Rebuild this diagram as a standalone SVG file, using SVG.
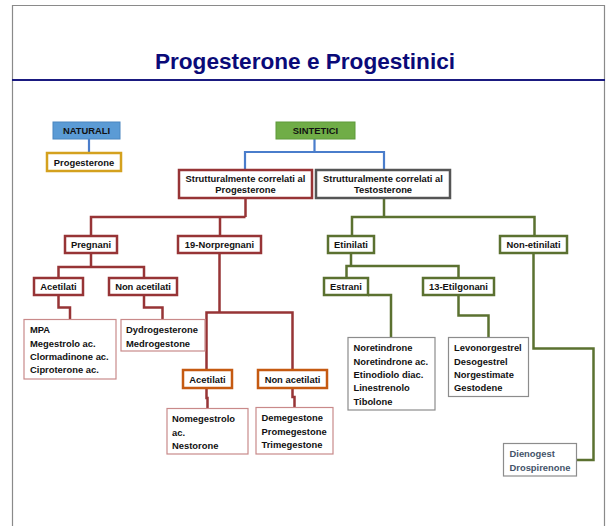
<svg xmlns="http://www.w3.org/2000/svg" width="611" height="526" viewBox="0 0 611 526">
<style>
text{font-family:"Liberation Sans",Arial,sans-serif;font-weight:bold;font-size:9.4px;fill:#111}
.title{font-size:22.6px;fill:#0A0A78}
.c{text-anchor:middle}
.red{fill:#fff;stroke:#973436;stroke-width:2.5}
.org{fill:#fff;stroke:#C55A11;stroke-width:2.5}
.grn{fill:#fff;stroke:#5B7130;stroke-width:2.5}
.lst{fill:#fff;stroke:#C98A8A;stroke-width:1.2}
.gst{fill:#fff;stroke:#8C8C8C;stroke-width:1.2}
.lr{fill:none;stroke:#973436;stroke-width:2.5}
.lg{fill:none;stroke:#5B7130;stroke-width:2.5}
.lb{fill:none;stroke:#4A7DCB;stroke-width:2.2}
</style>
<rect x="0" y="0" width="611" height="526" fill="#fff"/>
<g id="frame">
<path d="M12.5,526 V5.5 H604.5 V526" fill="none" stroke="#8A8A8A" stroke-width="1.2"/>
<line x1="12" y1="80" x2="605" y2="80" stroke="#1A1A80" stroke-width="2"/>
<text class="title c" x="305" y="69">Progesterone e Progestinici</text>
</g>
<g id="connectors">
<path class="lb" d="M89,139 V153"/>
<path class="lb" d="M314.5,139 V152 M245,170 V152 H384 V170"/>
<path class="lr" d="M245.5,198 V217 M91,236 V217 H245.5 M220,217 V236"/>
<path class="lg" d="M384,198 V217 M352,236 V217 H534.5 V236"/>
<path class="lr" d="M91,253 V267 M58.5,278 V267 H144 V278"/>
<path class="lr" d="M58.5,295 V307.5 H70 V319"/>
<path class="lr" d="M144,295 V307.5 H162.5 V319"/>
<path class="lr" d="M219.5,253 V312.5 M206.5,370 V312.5 H292.5 V370"/>
<path class="lr" d="M206.5,388 V398 H207.5 V408"/>
<path class="lr" d="M292.5,388 V397 H294.5 V407"/>
<path class="lg" d="M351,253 V266 M346.5,278 V266 H458.5 V278"/>
<path class="lg" d="M368,295 H391 V337"/>
<path class="lg" d="M458.5,295 V315.5 H488.5 V337"/>
<path class="lg" d="M533.5,253 V348.5 H593.5 V460 H577"/>
</g>
<g id="naturali">
<rect x="53" y="122" width="67" height="17" fill="#5B9BD5" stroke="#4A86C0" stroke-width="1"/>
<text class="c" x="86.5" y="134">NATURALI</text>
</g>
<g id="progesterone">
<rect x="47" y="153" width="74" height="18" fill="#fff" stroke="#D4A11E" stroke-width="2.5"/>
<text class="c" x="84" y="165.5">Progesterone</text>
</g>
<g id="sintetici">
<rect x="276" y="122" width="79" height="17" fill="#70AD47" stroke="#5E9A3A" stroke-width="1"/>
<text class="c" x="315.5" y="134">SINTETICI</text>
</g>
<g id="corr-progesterone">
<rect class="red" x="179" y="170" width="133" height="28"/>
<text class="c" x="245.5" y="182">Strutturalmente correlati al</text>
<text class="c" x="245.5" y="193">Progesterone</text>
</g>
<g id="corr-testosterone">
<rect x="316" y="170" width="134" height="28" fill="#fff" stroke="#555" stroke-width="2.5"/>
<text class="c" x="383" y="182">Strutturalmente correlati al</text>
<text class="c" x="383" y="193">Testosterone</text>
</g>
<g id="pregnani">
<rect class="red" x="65" y="236" width="52" height="17"/>
<text class="c" x="91" y="248">Pregnani</text>
</g>
<g id="norpregnani">
<rect class="red" x="178" y="236" width="83" height="17"/>
<text class="c" x="219.5" y="248">19-Norpregnani</text>
</g>
<g id="etinilati">
<rect class="grn" x="328" y="236" width="46" height="17"/>
<text class="c" x="351" y="248">Etinilati</text>
</g>
<g id="non-etinilati">
<rect class="grn" x="500" y="236" width="67" height="17"/>
<text class="c" x="533.5" y="248">Non-etinilati</text>
</g>
<g id="acetilati-1">
<rect class="red" x="34" y="278" width="49" height="17"/>
<text class="c" x="58.5" y="290">Acetilati</text>
</g>
<g id="non-acetilati-1">
<rect class="red" x="109" y="278" width="68" height="17"/>
<text class="c" x="143" y="290">Non acetilati</text>
</g>
<g id="estrani">
<rect class="grn" x="324" y="278" width="44" height="17"/>
<text class="c" x="346" y="290">Estrani</text>
</g>
<g id="etilgonani">
<rect class="grn" x="423" y="278" width="71" height="17"/>
<text class="c" x="458.5" y="290">13-Etilgonani</text>
</g>
<g id="list-mpa">
<rect class="lst" x="24" y="319.5" width="92" height="59.5"/>
<text x="30" y="333">MPA</text>
<text x="30" y="346.5">Megestrolo ac.</text>
<text x="30" y="360">Clormadinone ac.</text>
<text x="30" y="373">Ciproterone ac.</text>
</g>
<g id="list-dydro">
<rect class="lst" x="121" y="319.5" width="84" height="31.5"/>
<text x="126" y="333">Dydrogesterone</text>
<text x="126" y="346.5">Medrogestone</text>
</g>
<g id="acetilati-2">
<rect class="org" x="183" y="370" width="49" height="18"/>
<text class="c" x="207.5" y="382.5">Acetilati</text>
</g>
<g id="non-acetilati-2">
<rect class="org" x="258" y="370" width="69" height="18"/>
<text class="c" x="292.5" y="382.5">Non acetilati</text>
</g>
<g id="list-nomeg">
<rect class="lst" x="167" y="408.5" width="81" height="45.5"/>
<text x="172" y="421.5">Nomegestrolo</text>
<text x="172" y="435.5">ac.</text>
<text x="172" y="449">Nestorone</text>
</g>
<g id="list-demeg">
<rect class="lst" x="256" y="407.5" width="77" height="46.5"/>
<text x="261.5" y="421">Demegestone</text>
<text x="261.5" y="435">Promegestone</text>
<text x="261.5" y="448">Trimegestone</text>
</g>
<g id="list-noret">
<rect class="gst" x="348" y="337.5" width="87" height="72.5"/>
<text x="353.5" y="350.5">Noretindrone</text>
<text x="353.5" y="364.5">Noretindrone ac.</text>
<text x="353.5" y="378">Etinodiolo diac.</text>
<text x="353.5" y="391">Linestrenolo</text>
<text x="353.5" y="404.5">Tibolone</text>
</g>
<g id="list-levo">
<rect class="gst" x="448.5" y="337.5" width="80" height="59"/>
<text x="454" y="350.5">Levonorgestrel</text>
<text x="454" y="364.5">Desogestrel</text>
<text x="454" y="378">Norgestimate</text>
<text x="454" y="391">Gestodene</text>
</g>
<g id="list-dieno">
<rect class="gst" x="503.5" y="443.5" width="73" height="32.5"/>
<text x="509.5" y="456.5" style="fill:#44546A">Dienogest</text>
<text x="509.5" y="470.5" style="fill:#44546A">Drospirenone</text>
</g>
</svg>
